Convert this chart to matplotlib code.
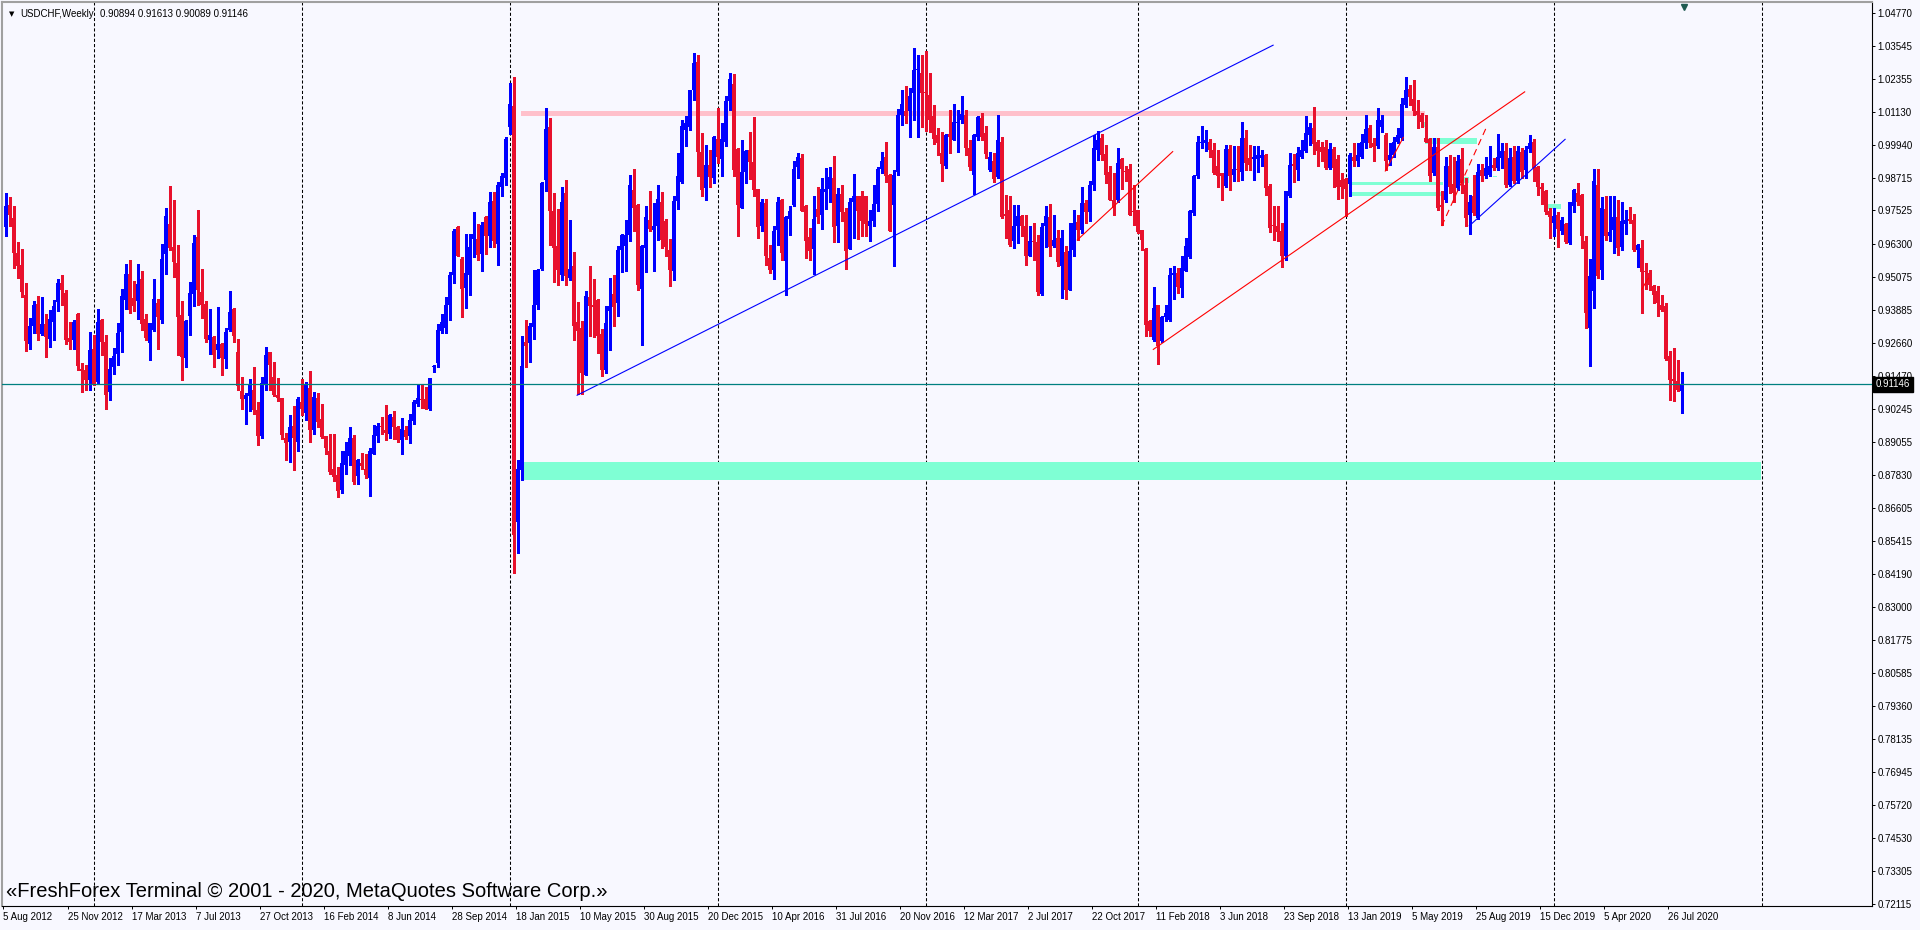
import matplotlib
matplotlib.use("Agg")
import matplotlib.pyplot as plt
import matplotlib.transforms as mtransforms
from matplotlib.patches import Rectangle
import pandas as pd

# USDCHF weekly bars, first bar = week of 5 Aug 2012
first_week = "2012-08-05"

opens = [
    0.9691, 0.9773, 0.9724, 0.9596, 0.9553, 0.9441, 0.9263, 0.9327, 0.9410, 0.9299,
    0.9335, 0.9283, 0.9342, 0.9415, 0.9487, 0.9451, 0.9285, 0.9279, 0.9374, 0.9170,
    0.9169, 0.9132, 0.9246, 0.9122, 0.9352, 0.9271, 0.9086, 0.9177, 0.9227, 0.9308,
    0.9423, 0.9520, 0.9431, 0.9419, 0.9502, 0.9355, 0.9265, 0.9315, 0.9412, 0.9349,
    0.9591, 0.9703, 0.9617, 0.9561, 0.9370, 0.9210, 0.9364, 0.9447, 0.9656, 0.9454,
    0.9410, 0.9279, 0.9290, 0.9240, 0.9264, 0.9209, 0.9315, 0.9392, 0.9235, 0.9092,
    0.9061, 0.9071, 0.9096, 0.9022, 0.8925, 0.9116, 0.9232, 0.9143, 0.9077, 0.9064,
    0.8920, 0.8903, 0.8961, 0.8905, 0.9052, 0.9011, 0.9103, 0.8949, 0.9066, 0.8988,
    0.8925, 0.8872, 0.8806, 0.8784, 0.8726, 0.8818, 0.8854, 0.8920, 0.8778, 0.8828,
    0.8803, 0.8771, 0.8860, 0.8927, 0.8964, 0.8949, 0.8932, 0.8997, 0.8957, 0.8910,
    0.8946, 0.8925, 0.8980, 0.9044, 0.9060, 0.9063, 0.9024, 0.9178, 0.9192, 0.9309,
    0.9320, 0.9407, 0.9517, 0.9692, 0.9573, 0.9468, 0.9517, 0.9646, 0.9648, 0.9593,
    0.9729, 0.9657, 0.9787, 0.9628, 0.9840, 0.9873, 1.0060, 1.0135, 0.8612, 0.8801,
    0.9269, 0.9267, 0.9325, 0.9407, 0.9538, 0.9865, 1.0057, 0.9749, 0.9623, 0.9517,
    0.9816, 0.9505, 0.9550, 0.9344, 0.9322, 0.9151, 0.9435, 0.9407, 0.9425, 0.9301,
    0.9169, 0.9383, 0.9447, 0.9413, 0.9608, 0.9621, 0.9663, 0.9826, 0.9773, 0.9464,
    0.9615, 0.9718, 0.9682, 0.9694, 0.9785, 0.9715, 0.9608, 0.9529, 0.9788, 0.9855,
    1.0048, 1.0060, 1.0194, 1.0298, 0.9966, 0.9833, 0.9920, 0.9871, 1.0013, 0.9940,
    1.0005, 1.0155, 1.0216, 0.9977, 0.9763, 0.9894, 0.9974, 0.9930, 0.9830, 0.9697,
    0.9780, 0.9578, 0.9535, 0.9679, 0.9791, 0.9568, 0.9722, 0.9773, 0.9910, 0.9946,
    0.9770, 0.9654, 0.9612, 0.9758, 0.9734, 0.9820, 0.9830, 0.9873, 0.9694, 0.9812,
    0.9745, 0.9612, 0.9785, 0.9806, 0.9806, 0.9804, 0.9697, 0.9712, 0.9776, 0.9904,
    0.9950, 0.9883, 0.9773, 0.9895, 1.0103, 1.0115, 1.0115, 1.0184, 1.0267, 1.0255,
    1.0184, 1.0176, 1.0099, 1.0029, 0.9962, 0.9916, 1.0033, 1.0011, 1.0072, 1.0082,
    1.0103, 0.9981, 0.9883, 1.0023, 1.0090, 1.0038, 0.9901, 0.9935, 0.9874, 1.0005,
    0.9740, 0.9755, 0.9639, 0.9694, 0.9731, 0.9694, 0.9587, 0.9639, 0.9635, 0.9446,
    0.9694, 0.9727, 0.9621, 0.9651, 0.9548, 0.9599, 0.9462, 0.9609, 0.9710, 0.9682,
    0.9779, 0.9745, 0.9847, 0.9975, 1.0017, 0.9960, 0.9892, 0.9792, 0.9792, 0.9942,
    0.9898, 0.9905, 0.9751, 0.9755, 0.9682, 0.9611, 0.9346, 0.9277, 0.9404, 0.9273,
    0.9362, 0.9352, 0.9514, 0.9523, 0.9468, 0.9529, 0.9582, 0.9743, 0.9877, 0.9999,
    1.0001, 1.0005, 0.9975, 0.9916, 0.9889, 0.9843, 0.9977, 0.9883, 0.9904, 0.9895,
    1.0017, 0.9944, 0.9942, 0.9940, 0.9944, 0.9956, 0.9843, 0.9700, 0.9694, 0.9676,
    0.9584, 0.9804, 0.9923, 0.9901, 0.9950, 0.9972, 1.0030, 1.0054, 1.0005, 0.9984,
    0.9984, 0.9908, 0.9977, 0.9940, 0.9865, 0.9867, 0.9850, 0.9950, 0.9932, 0.9950,
    0.9999, 1.0054, 1.0001, 0.9987, 1.0060, 1.0030, 0.9938, 0.9956, 1.0005, 1.0017,
    1.0139, 1.0197, 1.0160, 1.0118, 1.0103, 1.0017, 1.0014, 0.9889, 0.9984, 0.9771,
    0.9792, 0.9916, 0.9850, 0.9834, 0.9940, 0.9847, 0.9737, 0.9806, 0.9724, 0.9901,
    0.9877, 0.9883, 0.9920, 0.9908, 0.9944, 0.9969, 0.9847, 0.9950, 0.9859, 0.9968,
    0.9899, 0.9977, 1.0005, 0.9911, 0.9837, 0.9822, 0.9752, 0.9706, 0.9737, 0.9676,
    0.9704, 0.9633, 0.9767, 0.9818, 0.9810, 0.9639, 0.9322, 0.9456, 0.9846, 0.9535,
    0.9759, 0.9657, 0.9679, 0.9727, 0.9618, 0.9704, 0.9721, 0.9716, 0.9606, 0.9614,
    0.9531, 0.9523, 0.9477, 0.9456, 0.9407, 0.9401, 0.9218, 0.9135, 0.9129, 0.90894,
]
highs = [
    0.9815, 0.9803, 0.9769, 0.9637, 0.9612, 0.9486, 0.9358, 0.9421, 0.9440, 0.9436,
    0.9374, 0.9387, 0.9423, 0.9501, 0.9515, 0.9460, 0.9344, 0.9350, 0.9376, 0.9194,
    0.9187, 0.9308, 0.9297, 0.9392, 0.9355, 0.9297, 0.9210, 0.9249, 0.9338, 0.9466,
    0.9557, 0.9571, 0.9495, 0.9557, 0.9531, 0.9373, 0.9340, 0.9502, 0.9429, 0.9630,
    0.9762, 0.9842, 0.9791, 0.9626, 0.9421, 0.9352, 0.9491, 0.9663, 0.9754, 0.9538,
    0.9419, 0.9392, 0.9292, 0.9399, 0.9266, 0.9321, 0.9458, 0.9396, 0.9282, 0.9142,
    0.9085, 0.9136, 0.9180, 0.9050, 0.9142, 0.9253, 0.9235, 0.9197, 0.9137, 0.9065,
    0.8937, 0.9004, 0.9035, 0.9068, 0.9133, 0.9125, 0.9163, 0.9086, 0.9083, 0.9044,
    0.8927, 0.8933, 0.8933, 0.8811, 0.8872, 0.8902, 0.8958, 0.8931, 0.8841, 0.8865,
    0.8858, 0.8880, 0.8965, 0.8974, 0.8994, 0.9041, 0.9005, 0.9018, 0.8964, 0.8992,
    0.8964, 0.9007, 0.9057, 0.9113, 0.9114, 0.9107, 0.9140, 0.9187, 0.9336, 0.9374,
    0.9435, 0.9525, 0.9685, 0.9695, 0.9580, 0.9667, 0.9667, 0.9745, 0.9703, 0.9710,
    0.9731, 0.9820, 0.9820, 0.9857, 0.9889, 1.0021, 1.0218, 1.0243, 0.8838, 0.9292,
    0.9349, 0.9340, 0.9535, 0.9537, 0.9858, 1.0127, 1.0090, 0.9816, 0.9757, 0.9840,
    0.9865, 0.9718, 0.9601, 0.9417, 0.9346, 0.9456, 0.9547, 0.9502, 0.9428, 0.9316,
    0.9401, 0.9505, 0.9517, 0.9621, 0.9665, 0.9718, 0.9883, 0.9905, 0.9775, 0.9626,
    0.9769, 0.9824, 0.9779, 0.9846, 0.9819, 0.9721, 0.9647, 0.9804, 0.9962, 1.0082,
    1.0099, 1.0194, 1.0328, 1.0322, 1.0035, 0.9993, 0.9974, 1.0025, 1.0127, 1.0072,
    1.0170, 1.0257, 1.0253, 0.9980, 1.0011, 0.9973, 1.0041, 1.0096, 0.9831, 0.9794,
    0.9793, 0.9627, 0.9694, 0.9800, 0.9794, 0.9733, 0.9769, 0.9932, 0.9962, 0.9958,
    0.9772, 0.9688, 0.9807, 0.9838, 0.9871, 0.9907, 0.9910, 0.9952, 0.9834, 0.9844,
    0.9761, 0.9798, 0.9887, 0.9806, 0.9822, 0.9804, 0.9755, 0.9844, 0.9913, 0.9965,
    1.0005, 0.9885, 0.9901, 1.0123, 1.0194, 1.0210, 1.0200, 1.0349, 1.0322, 1.0322,
    1.0337, 1.0255, 1.0139, 1.0054, 1.0041, 1.0031, 1.0121, 1.0143, 1.0121, 1.0172,
    1.0121, 1.0011, 1.0033, 1.0099, 1.0109, 1.0062, 0.9968, 0.9962, 1.0103, 1.0021,
    0.9810, 0.9804, 0.9773, 0.9771, 0.9737, 0.9737, 0.9694, 0.9706, 0.9663, 0.9706,
    0.9767, 0.9777, 0.9737, 0.9682, 0.9682, 0.9623, 0.9706, 0.9753, 0.9737, 0.9840,
    0.9792, 0.9859, 1.0030, 1.0042, 1.0033, 0.9993, 0.9914, 0.9889, 0.9981, 0.9944,
    0.9916, 0.9923, 0.9847, 0.9755, 0.9682, 0.9613, 0.9350, 0.9472, 0.9406, 0.9364,
    0.9407, 0.9541, 0.9550, 0.9541, 0.9584, 0.9651, 0.9755, 0.9883, 1.0026, 1.0062,
    1.0048, 1.0014, 1.0001, 0.9975, 0.9890, 0.9993, 0.9993, 0.9989, 0.9989, 1.0075,
    1.0048, 0.9993, 0.9989, 0.9987, 0.9975, 0.9958, 0.9850, 0.9767, 0.9767, 0.9706,
    0.9824, 0.9962, 0.9960, 0.9984, 1.0011, 1.0099, 1.0072, 1.0133, 1.0011, 1.0005,
    1.0011, 0.9999, 0.9984, 0.9956, 0.9889, 0.9871, 0.9962, 0.9999, 0.9999, 1.0033,
    1.0103, 1.0066, 1.0017, 1.0127, 1.0103, 1.0035, 0.9999, 1.0023, 1.0054, 1.0164,
    1.0243, 1.0212, 1.0231, 1.0158, 1.0109, 1.0103, 1.0017, 1.0017, 1.0017, 0.9822,
    0.9950, 0.9956, 0.9948, 0.9956, 0.9981, 0.9871, 0.9810, 0.9883, 0.9923, 0.9923,
    0.9950, 0.9987, 0.9944, 1.0033, 0.9999, 0.9999, 0.9981, 0.9987, 0.9987, 0.9981,
    0.9987, 1.0029, 1.0013, 0.9916, 0.9852, 0.9828, 0.9761, 0.9761, 0.9745, 0.9730,
    0.9706, 0.9785, 0.9830, 0.9852, 0.9812, 0.9660, 0.9574, 0.9905, 0.9905, 0.9801,
    0.9804, 0.9806, 0.9806, 0.9791, 0.9785, 0.9755, 0.9765, 0.9740, 0.9629, 0.9643,
    0.9560, 0.9535, 0.9480, 0.9474, 0.9444, 0.9413, 0.9236, 0.9249, 0.9203, 0.91613,
]
lows = [
    0.9657, 0.9696, 0.9541, 0.9504, 0.9435, 0.9238, 0.9246, 0.9305, 0.9276, 0.9297,
    0.9214, 0.9251, 0.9277, 0.9382, 0.9404, 0.9264, 0.9244, 0.9243, 0.9166, 0.9086,
    0.9096, 0.9093, 0.9111, 0.9118, 0.9221, 0.9024, 0.9057, 0.9154, 0.9186, 0.9232,
    0.9391, 0.9377, 0.9382, 0.9353, 0.9313, 0.9279, 0.9205, 0.9312, 0.9246, 0.9338,
    0.9521, 0.9607, 0.9510, 0.9224, 0.9130, 0.9177, 0.9297, 0.9402, 0.9407, 0.9358,
    0.9269, 0.9225, 0.9177, 0.9213, 0.9148, 0.9174, 0.9309, 0.9271, 0.9093, 0.9025,
    0.8968, 0.9016, 0.9005, 0.8892, 0.8920, 0.9094, 0.9096, 0.9072, 0.9054, 0.8915,
    0.8839, 0.8832, 0.8800, 0.8869, 0.9003, 0.8983, 0.8903, 0.8932, 0.8959, 0.8920,
    0.8860, 0.8788, 0.8760, 0.8702, 0.8716, 0.8788, 0.8821, 0.8749, 0.8750, 0.8803,
    0.8770, 0.8705, 0.8858, 0.8904, 0.8934, 0.8910, 0.8920, 0.8913, 0.8904, 0.8859,
    0.8915, 0.8900, 0.8971, 0.9035, 0.9027, 0.9025, 0.9022, 0.9160, 0.9178, 0.9303,
    0.9303, 0.9352, 0.9488, 0.9585, 0.9360, 0.9396, 0.9441, 0.9581, 0.9571, 0.9532,
    0.9593, 0.9617, 0.9620, 0.9553, 0.9807, 0.9846, 1.0033, 0.8425, 0.8498, 0.8764,
    0.9178, 0.9196, 0.9283, 0.9391, 0.9533, 0.9822, 0.9627, 0.9489, 0.9480, 0.9499,
    0.9480, 0.9496, 0.9279, 0.9078, 0.9081, 0.9148, 0.9291, 0.9288, 0.9230, 0.9145,
    0.9157, 0.9242, 0.9328, 0.9367, 0.9525, 0.9529, 0.9639, 0.9676, 0.9462, 0.9261,
    0.9525, 0.9676, 0.9529, 0.9645, 0.9615, 0.9584, 0.9477, 0.9496, 0.9757, 0.9852,
    0.9989, 1.0048, 1.0157, 0.9877, 0.9806, 0.9789, 0.9840, 0.9852, 0.9926, 0.9877,
    0.9989, 1.0121, 0.9879, 0.9660, 0.9760, 0.9852, 0.9867, 0.9804, 0.9651, 0.9676,
    0.9554, 0.9523, 0.9501, 0.9627, 0.9569, 0.9444, 0.9663, 0.9767, 0.9871, 0.9749,
    0.9578, 0.9572, 0.9521, 0.9708, 0.9685, 0.9757, 0.9782, 0.9635, 0.9635, 0.9712,
    0.9538, 0.9611, 0.9651, 0.9649, 0.9657, 0.9660, 0.9641, 0.9694, 0.9752, 0.9889,
    0.9858, 0.9676, 0.9550, 0.9883, 1.0066, 1.0072, 1.0020, 1.0084, 1.0020, 1.0057,
    1.0045, 1.0041, 0.9996, 0.9956, 0.9861, 0.9907, 0.9962, 1.0010, 0.9968, 1.0074,
    0.9956, 0.9899, 0.9813, 1.0009, 1.0011, 0.9944, 0.9898, 0.9855, 0.9871, 0.9726,
    0.9651, 0.9621, 0.9615, 0.9633, 0.9657, 0.9551, 0.9584, 0.9572, 0.9444, 0.9444,
    0.9618, 0.9584, 0.9617, 0.9550, 0.9432, 0.9426, 0.9460, 0.9584, 0.9645, 0.9670,
    0.9706, 0.9712, 0.9828, 0.9938, 0.9938, 0.9853, 0.9789, 0.9737, 0.9785, 0.9831,
    0.9859, 0.9735, 0.9700, 0.9670, 0.9609, 0.9294, 0.9291, 0.9275, 0.9191, 0.9269,
    0.9346, 0.9346, 0.9426, 0.9450, 0.9435, 0.9529, 0.9578, 0.9737, 0.9871, 0.9981,
    0.9969, 0.9950, 0.9887, 0.9840, 0.9792, 0.9840, 0.9828, 0.9859, 0.9859, 0.9865,
    0.9899, 0.9901, 0.9865, 0.9895, 0.9914, 0.9810, 0.9672, 0.9645, 0.9639, 0.9545,
    0.9572, 0.9801, 0.9855, 0.9865, 0.9944, 0.9965, 0.9993, 0.9960, 0.9916, 0.9932,
    0.9905, 0.9904, 0.9840, 0.9794, 0.9798, 0.9731, 0.9804, 0.9916, 0.9914, 0.9944,
    0.9981, 0.9984, 0.9932, 0.9981, 1.0040, 0.9901, 0.9920, 0.9950, 0.9999, 1.0011,
    1.0133, 1.0139, 1.0103, 1.0054, 1.0060, 1.0003, 0.9859, 0.9883, 0.9755, 0.9700,
    0.9782, 0.9816, 0.9782, 0.9828, 0.9816, 0.9694, 0.9667, 0.9737, 0.9722, 0.9859,
    0.9871, 0.9877, 0.9901, 0.9901, 0.9908, 0.9840, 0.9843, 0.9852, 0.9852, 0.9871,
    0.9871, 0.9965, 0.9859, 0.9810, 0.9776, 0.9740, 0.9651, 0.9657, 0.9618, 0.9667,
    0.9633, 0.9630, 0.9745, 0.9773, 0.9615, 0.9322, 0.9184, 0.9395, 0.9505, 0.9501,
    0.9645, 0.9639, 0.9596, 0.9590, 0.9606, 0.9667, 0.9708, 0.9602, 0.9545, 0.9377,
    0.9464, 0.9462, 0.9413, 0.9364, 0.9383, 0.9206, 0.9057, 0.9053, 0.9090, 0.90089,
]
closes = [
    0.9767, 0.9736, 0.9598, 0.9547, 0.9452, 0.9273, 0.9330, 0.9407, 0.9299, 0.9337,
    0.9287, 0.9354, 0.9403, 0.9488, 0.9459, 0.9279, 0.9269, 0.9344, 0.9183, 0.9164,
    0.9132, 0.9242, 0.9114, 0.9344, 0.9269, 0.9075, 0.9172, 0.9220, 0.9302, 0.9437,
    0.9520, 0.9386, 0.9403, 0.9484, 0.9335, 0.9286, 0.9338, 0.9429, 0.9360, 0.9575,
    0.9732, 0.9613, 0.9562, 0.9360, 0.9214, 0.9348, 0.9451, 0.9634, 0.9459, 0.9407,
    0.9283, 0.9297, 0.9221, 0.9264, 0.9212, 0.9308, 0.9380, 0.9294, 0.9108, 0.9061,
    0.9077, 0.9118, 0.9020, 0.8925, 0.9120, 0.9224, 0.9187, 0.9075, 0.9064, 0.8931,
    0.8900, 0.8958, 0.8920, 0.9060, 0.9025, 0.9116, 0.8947, 0.9070, 0.8976, 0.8921,
    0.8880, 0.8793, 0.8777, 0.8724, 0.8826, 0.8872, 0.8920, 0.8756, 0.8839, 0.8814,
    0.8781, 0.8869, 0.8928, 0.8963, 0.8957, 0.8936, 0.9004, 0.8958, 0.8910, 0.8952,
    0.8921, 0.8986, 0.9050, 0.9066, 0.9058, 0.9026, 0.9138, 0.9183, 0.9314, 0.9344,
    0.9407, 0.9517, 0.9678, 0.9587, 0.9464, 0.9524, 0.9619, 0.9667, 0.9590, 0.9700,
    0.9659, 0.9785, 0.9641, 0.9847, 0.9879, 1.0016, 1.0143, 0.8563, 0.8805, 0.9182,
    0.9255, 0.9328, 0.9407, 0.9535, 0.9852, 1.0050, 0.9749, 0.9615, 0.9535, 0.9784,
    0.9511, 0.9538, 0.9328, 0.9310, 0.9157, 0.9440, 0.9401, 0.9398, 0.9291, 0.9169,
    0.9340, 0.9403, 0.9397, 0.9606, 0.9663, 0.9663, 0.9844, 0.9761, 0.9480, 0.9623,
    0.9730, 0.9684, 0.9696, 0.9795, 0.9645, 0.9618, 0.9535, 0.9788, 0.9879, 1.0062,
    1.0074, 1.0192, 1.0294, 0.9965, 0.9826, 0.9920, 0.9874, 1.0023, 0.9950, 1.0015,
    1.0154, 1.0234, 0.9901, 0.9771, 0.9894, 0.9971, 0.9930, 0.9826, 0.9690, 0.9782,
    0.9584, 0.9535, 0.9678, 0.9783, 0.9596, 0.9727, 0.9751, 0.9905, 0.9950, 0.9751,
    0.9641, 0.9602, 0.9722, 0.9727, 0.9832, 0.9832, 0.9874, 0.9690, 0.9812, 0.9745,
    0.9602, 0.9785, 0.9806, 0.9751, 0.9712, 0.9704, 0.9715, 0.9777, 0.9905, 0.9934,
    0.9877, 0.9678, 0.9883, 1.0103, 1.0143, 1.0099, 1.0170, 1.0267, 1.0270, 1.0184,
    1.0182, 1.0084, 1.0013, 0.9999, 0.9922, 1.0029, 1.0023, 1.0078, 1.0078, 1.0106,
    0.9983, 0.9913, 1.0029, 1.0094, 1.0023, 0.9960, 0.9948, 0.9867, 1.0011, 0.9728,
    0.9731, 0.9624, 0.9694, 0.9731, 0.9694, 0.9584, 0.9639, 0.9635, 0.9452, 0.9690,
    0.9731, 0.9617, 0.9645, 0.9562, 0.9651, 0.9462, 0.9603, 0.9706, 0.9682, 0.9779,
    0.9745, 0.9847, 0.9981, 1.0009, 0.9956, 0.9881, 0.9792, 0.9761, 0.9928, 0.9905,
    0.9893, 0.9737, 0.9745, 0.9672, 0.9645, 0.9334, 0.9310, 0.9395, 0.9255, 0.9362,
    0.9377, 0.9517, 0.9523, 0.9472, 0.9541, 0.9621, 0.9749, 0.9877, 1.0005, 1.0005,
    1.0011, 0.9975, 0.9889, 0.9877, 0.9877, 0.9977, 0.9877, 0.9904, 0.9901, 1.0017,
    0.9926, 0.9920, 0.9950, 0.9956, 0.9956, 0.9834, 0.9688, 0.9694, 0.9672, 0.9584,
    0.9822, 0.9920, 0.9916, 0.9962, 0.9975, 1.0038, 1.0057, 0.9997, 0.9969, 0.9965,
    0.9908, 0.9977, 0.9908, 0.9838, 0.9838, 0.9831, 0.9956, 0.9932, 0.9956, 1.0005,
    1.0051, 1.0001, 0.9984, 1.0084, 1.0084, 0.9932, 0.9956, 1.0005, 1.0030, 1.0143,
    1.0194, 1.0167, 1.0115, 1.0103, 1.0078, 1.0005, 0.9877, 0.9984, 0.9761, 0.9765,
    0.9916, 0.9840, 0.9818, 0.9932, 0.9853, 0.9724, 0.9785, 0.9743, 0.9895, 0.9877,
    0.9908, 0.9914, 0.9908, 0.9950, 0.9972, 0.9847, 0.9944, 0.9859, 0.9972, 0.9895,
    0.9974, 1.0001, 0.9907, 0.9837, 0.9830, 0.9745, 0.9727, 0.9733, 0.9684, 0.9718,
    0.9635, 0.9782, 0.9828, 0.9785, 0.9657, 0.9377, 0.9511, 0.9862, 0.9511, 0.9763,
    0.9657, 0.9672, 0.9730, 0.9613, 0.9712, 0.9718, 0.9712, 0.9608, 0.9627, 0.9525,
    0.9525, 0.9480, 0.9444, 0.9413, 0.9389, 0.9208, 0.9130, 0.9127, 0.9094, 0.91146,
]

price_ticks = [1.04770, 1.03545, 1.02355, 1.01130, 0.99940, 0.98715, 0.97525,
               0.96300, 0.95075, 0.93885, 0.92660, 0.91470, 0.90245, 0.89055,
               0.87830, 0.86605, 0.85415, 0.84190, 0.83000, 0.81775, 0.80585,
               0.79360, 0.78135, 0.76945, 0.75720, 0.74530, 0.73305, 0.72115]

# drawn objects: (bar from, bar to, price low, price high)
pink_zone = (128.9, 354.9, 1.0099, 1.0115)
aqua_zones = [
    (129.4, 438.9, 0.8764, 0.8831),
    (336.1, 359.4, 0.9846, 0.9858),
    (336.1, 359.4, 0.9806, 0.9821),
    (354.9, 367.9, 0.9996, 1.0019),
    (364.4, 365.9, 0.9853, 0.9875),
    (371.9, 372.9, 0.9874, 0.9879),
    (385.4, 388.9, 0.9758, 0.9776),
    (354.3, 354.9, 1.0059, 1.0078),
]
# trend lines: (bar1, price1, bar2, price2, colour, style)
trend_lines = [
    (142.9, 0.9075, 316.9, 1.0358, "#0000FF", "-"),
    (286.95, 0.9243, 379.8, 1.0187, "#FF0000", "-"),
    (267.95, 0.9644, 291.8, 0.9968, "#FF0000", "-"),
    (365.95, 0.9696, 389.9, 1.0013, "#0000FF", "-"),
    (344.95, 0.9897, 349.45, 1.0020, "#FF0000", "-"),
    (359.05, 0.9695, 370.1, 1.0053, "#FF0000", (0, (6, 4))),
    (409.05, 0.9463, 410.7, 0.9504, "#FF0000", "-"),
]

BG = "#F8F8FF"
BULL = "#0000FF"
BEAR = "#E8112D"
plt.rcParams["font.family"] = ["Liberation Sans", "DejaVu Sans"]

fig = plt.figure(figsize=(19.2, 9.3), dpi=100, facecolor=BG)
ax = fig.add_axes([2 / 1920, 24 / 930, 1870 / 1920, 904 / 930], facecolor=BG)
ax.set_xlim(-0.875, 466.625)
ax.set_ylim(0.72031, 1.05163)

dates = pd.date_range(first_week, periods=470, freq="7D")
year_starts = [i for i in range(1, len(dates)) if dates[i].year != dates[i - 1].year]
for i in year_starts:
    ax.axvline(i, color="black", lw=0.75, ls=(0, (3, 2)), zorder=1)

x0, x1, y0, y1 = pink_zone
ax.add_patch(Rectangle((x0, y0), x1 - x0, y1 - y0, color="#FFC0CB", lw=0, zorder=2))
for x0, x1, y0, y1 in aqua_zones:
    ax.add_patch(Rectangle((x0, y0), x1 - x0, y1 - y0, color="#7FFFD4", lw=0, zorder=2))

# candles
n = len(closes)
xs = list(range(n))
cols = [BULL if c >= o else BEAR for o, c in zip(opens, closes)]
ax.vlines(xs, lows, highs, colors=cols, lw=0.75, antialiased=False, zorder=3)
ax.bar(xs, [max(abs(c - o), 0.0003) for o, c in zip(opens, closes)],
       bottom=[min(o, c) for o, c in zip(opens, closes)],
       width=0.62, color=cols, lw=0, antialiased=False, zorder=3)

for xa, ya, xb, yb, col, ls in trend_lines:
    ax.plot([xa, xb], [ya, yb], color=col, lw=0.8, ls=ls, zorder=4)

last = closes[-1]
ax.axhline(last, color="#008080", lw=0.9, zorder=4)

# axes look
for side in ["top", "left"]:
    ax.spines[side].set_color("#A0A0A0")
    ax.spines[side].set_linewidth(1.5)
for side in ["right", "bottom"]:
    ax.spines[side].set_color("black")
    ax.spines[side].set_linewidth(0.8)

ax.yaxis.tick_right()
ax.set_yticks(price_ticks)
ax.set_yticklabels([f"{p:.5f}" for p in price_ticks])
ax.tick_params(axis="y", direction="out", length=2.5, width=0.7, pad=1.5,
               labelsize=7, colors="black")

lbl_idx = list(range(0, n, 16))
ax.set_xticks([i - 0.5 for i in lbl_idx])
ax.set_xticklabels([f"{dates[i].day} {dates[i]:%b %Y}" for i in lbl_idx], ha="left")
ax.tick_params(axis="x", direction="out", length=2.5, width=0.7, pad=2,
               labelsize=7, colors="black")

blend = mtransforms.blended_transform_factory(ax.transAxes, ax.transData)
ax.text(1.0, last, f"{last:.5f}", transform=blend + mtransforms.ScaledTranslation(4 / 100, 0, fig.dpi_scale_trans),
        ha="left", va="center", fontsize=7, color="white", clip_on=False, zorder=6,
        bbox=dict(boxstyle="square,pad=0.3", fc="black", ec="black"))

# chart-shift marker
ax.plot([419.6], [0.9945], marker="v", ms=5, color="#1E5A50",
        transform=mtransforms.blended_transform_factory(ax.transData, ax.transAxes),
        clip_on=False, zorder=6)

# header and footer
fig.text(9 / 1920, 1 - 14 / 930, "▼", fontsize=5, va="center", family="DejaVu Sans")
fig.text(20 / 1920, 1 - 14 / 930, "USDCHF,Weekly", fontsize=7, va="center")
fig.text(100 / 1920, 1 - 14 / 930,
         f"{opens[-1]:.5f} {highs[-1]:.5f} {lows[-1]:.5f} {closes[-1]:.5f}",
         fontsize=7, va="center")
fig.text(6 / 1920, 1 - 891 / 930,
         "«FreshForex Terminal © 2001 - 2020, MetaQuotes Software Corp.»",
         fontsize=14.5, va="center")

fig.savefig("out.png", dpi=100, facecolor=BG)
